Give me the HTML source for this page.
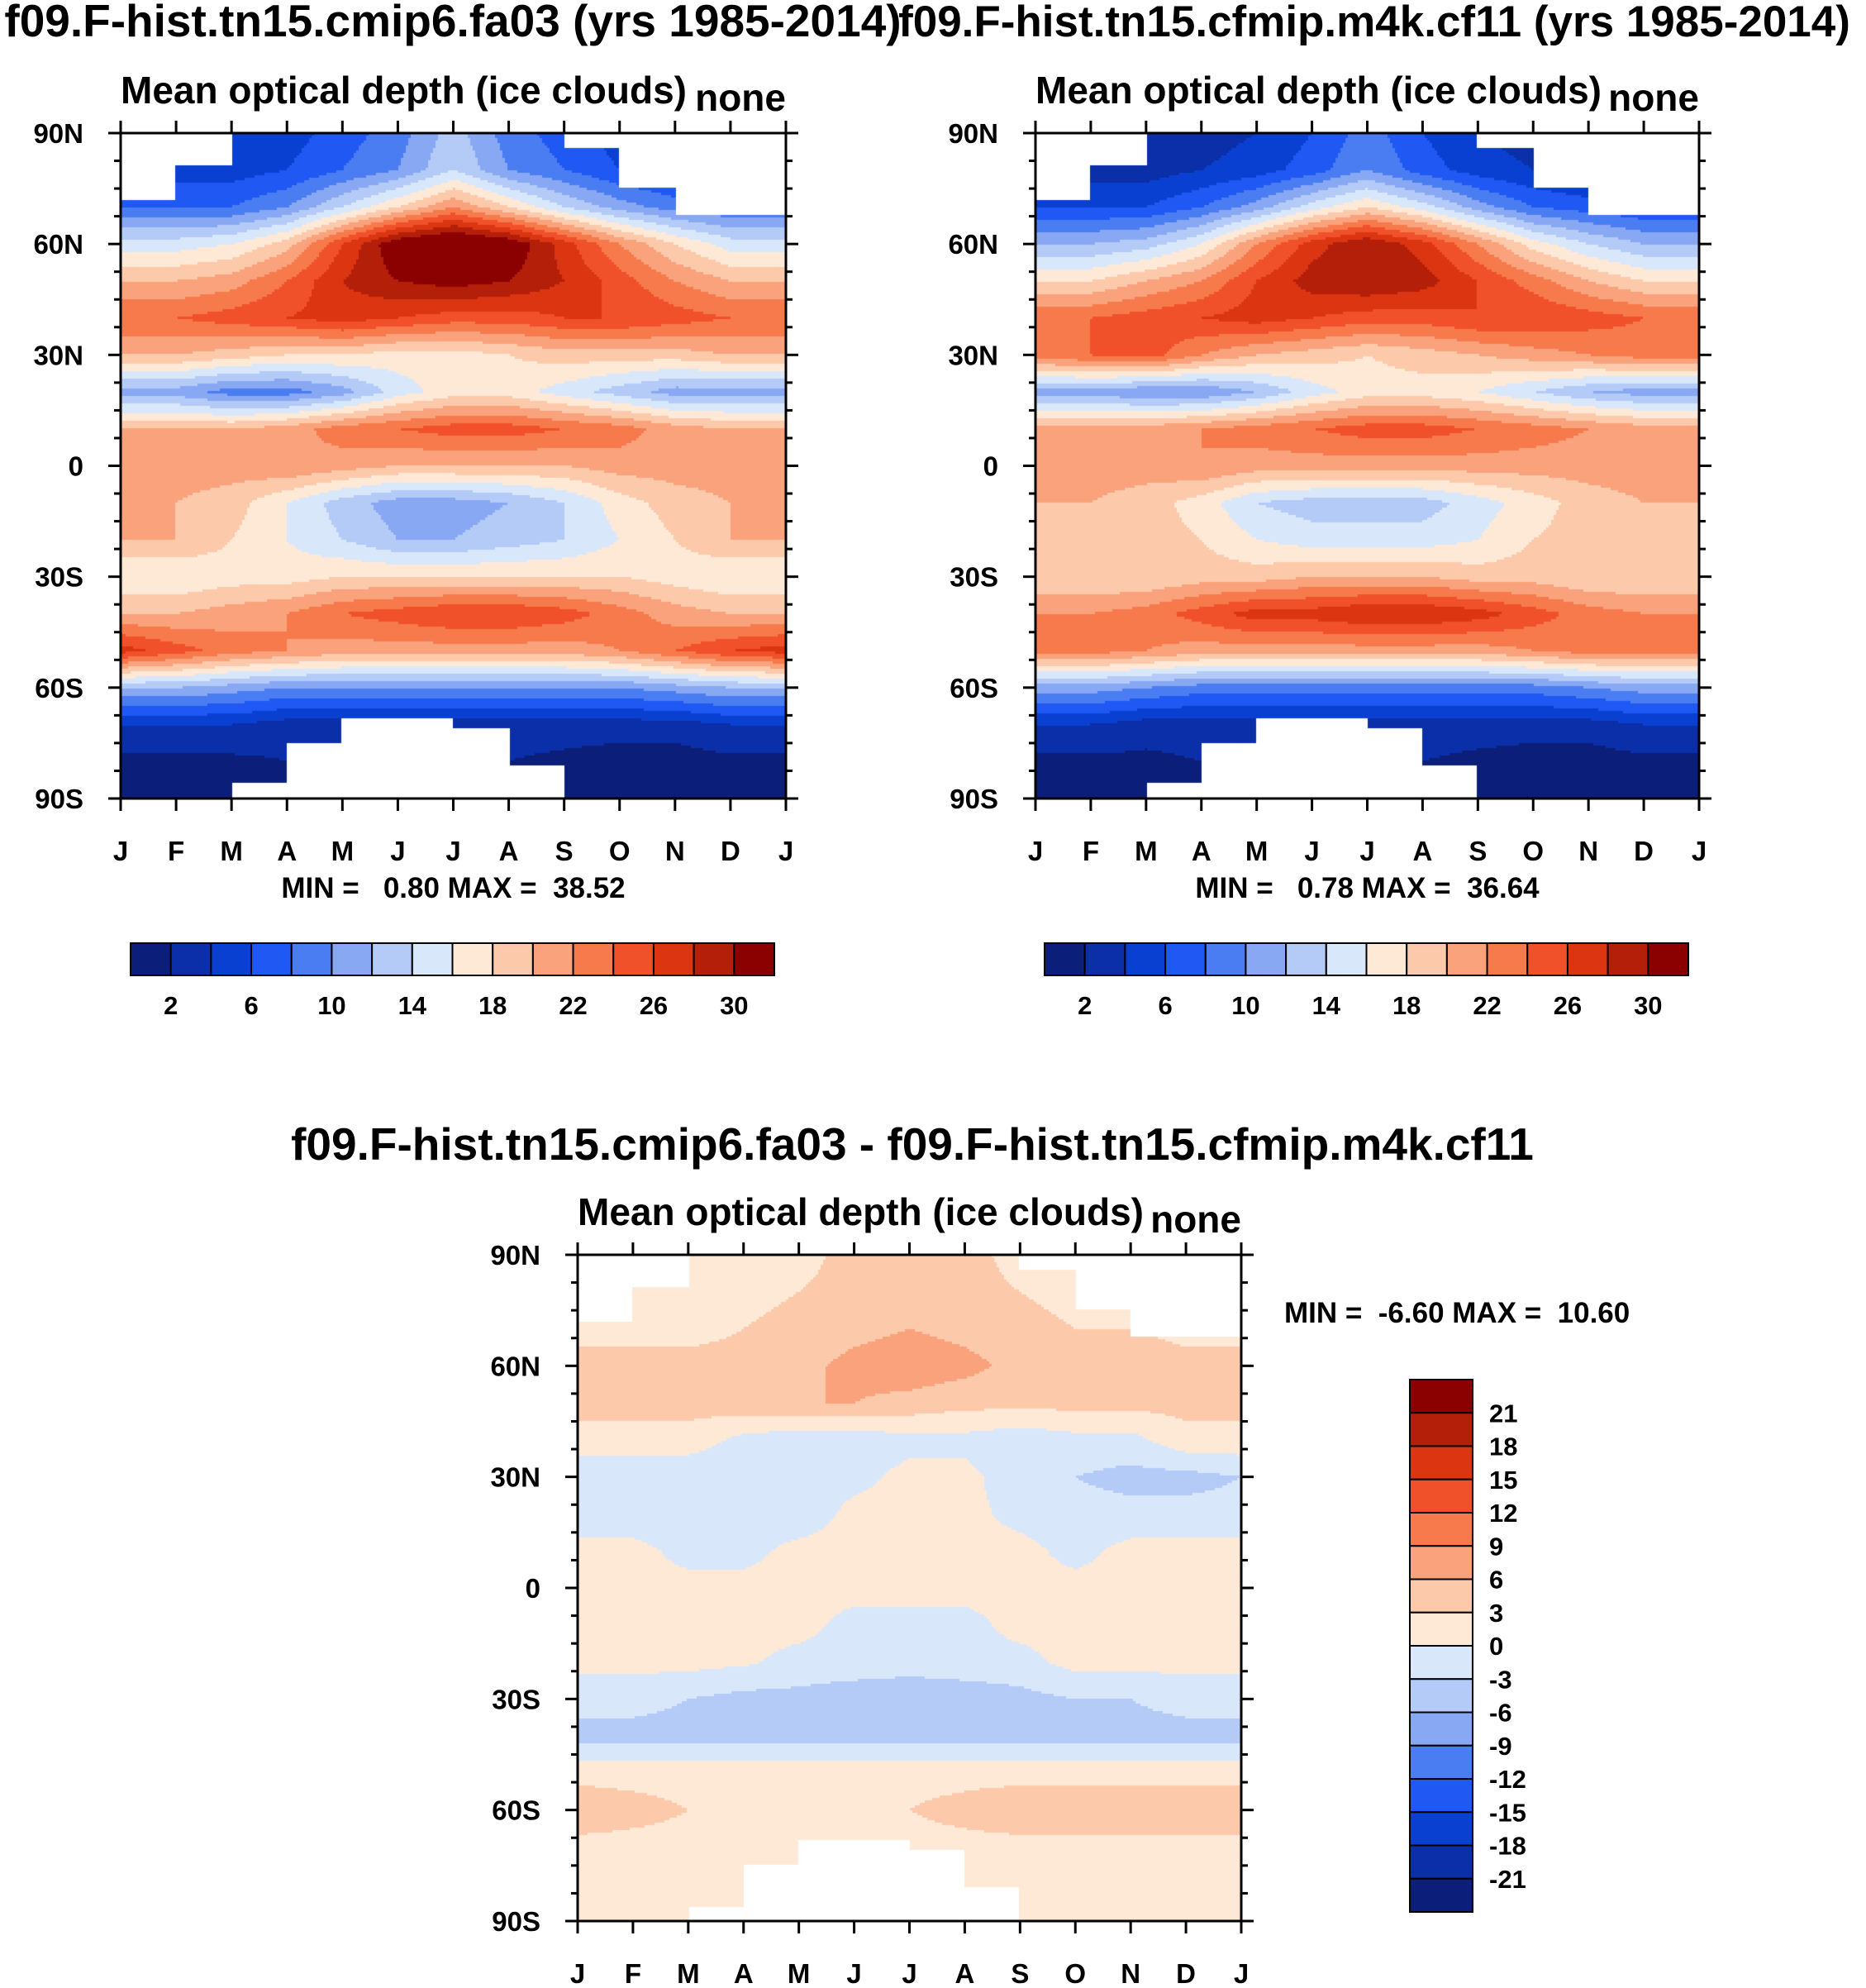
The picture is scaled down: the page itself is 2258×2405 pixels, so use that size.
<!DOCTYPE html>
<html><head><meta charset="utf-8">
<style>
html,body{margin:0;padding:0;background:#fff;}
#root{position:relative;width:2258px;height:2405px;overflow:hidden;background:#fff;font-family:"Liberation Sans",Arial,sans-serif;font-weight:bold;}
canvas{position:absolute;}
svg{position:absolute;left:0;top:0;}
text{font-family:"Liberation Sans",Arial,sans-serif;font-weight:bold;fill:#000;white-space:pre;}
</style></head>
<body>
<div id="root">
<canvas id="c1"></canvas>
<canvas id="c2"></canvas>
<canvas id="c3"></canvas>
<svg id="ov" width="2258" height="2405"></svg>
</div>
<script>
// ---- data ----
const months = ['J','F','M','A','M','J','J','A','S','O','N','D','J'];
const lats = [-90,-80,-70,-60,-50,-40,-30,-20,-10,0,10,20,30,40,50,60,70,80,90];
const topLevelLabels = ['2','6','10','14','18','22','26','30'];
const diffLevelLabels = ['21','18','15','12','9','6','3','0','-3','-6','-9','-12','-15','-18','-21'];
const palette = ['#0b1f7a','#0a2fa8','#0a40d2','#1f58f2','#4a7df2','#88a8f4','#b4cbf7','#d9e7fb','#fee9d7','#fcc9ab','#f9a27b','#f77a4d','#f1512a','#db3512','#b41f0a','#8b0000'];
const field1 = [
[1,1,1,1,1,1,1,1,1,1,1,1,1],
[1.5,1.5,1.5,2,2,2,2,2,1.5,1,1,1.5,1.5],
[4,4,4,3,3,3,3,3,3,3,3,4,4],
[12,12,11,10,10,10,10,10,10,10,11,12,12],
[27,25,23,22,21,21,21,21,21,22,24,26,27],
[20,20,21,22,24,25,26,26,25,23,21,20,20],
[16,16,17,17,18,18,18,18,18,18,17,16,16],
[20,20,18,16,14,12,12,13,14,16,18,20,20],
[20,20,19,16,13,11,11,12,14,17,19,20,20],
[21,21,21,22,21,20,20,20,20,21,21,21,21],
[20,20,20,21,23,24,25,25,24,23,21,20,20],
[11,11,9,9,11,15,17,17,15,13,11,11,11],
[20,20,19,18,18,17,17,18,19,19,19,20,20],
[24,24,25,26,27,26,25,25,26,26,25,24,24],
[20,20,21,24,28,30,31,30,28,25,22,20,20],
[15,15,16,19,26,32,34,32,27,22,18,15,15],
[8,8,8,10,14,18,22,18,14,11,9,8,8],
[5,5,5,6,8,10,14,10,8,6,5,5,5],
[5,5,5,5,7,9,13,9,7,5,5,5,5]];
const field2 = [
[1,1,1,1,1,1,1,1,1,1,1,1,1],
[1.5,1.5,1.5,2,2,2,2,2,1.5,1,1,1.5,1.5],
[4,4,3,3,3,3,3,3,3,3,3,4,4],
[11,11,10,9,9,9,9,9,9,9,10,11,11],
[23,23,22,21,21,21,21,21,21,22,23,23,23],
[22,22,23,25,27,27,28,28,27,25,23,22,22],
[18,18,18,19,19,20,20,20,19,19,18,18,18],
[19,19,19,18,16,15,15,15,16,18,19,19,19],
[20,20,19,17,14,13,13,13,15,17,19,20,20],
[21,21,21,22,21,21,21,21,21,21,21,21,21],
[21,21,21,22,23,24,25,25,24,23,22,21,21],
[11,11,10,10,12,15,17,17,16,14,12,11,11],
[23,24,25,22,20,19,18,19,20,21,22,23,23],
[24,24,25,26,27,26,25,25,26,26,25,24,24],
[18,18,20,22,26,29,30,29,26,23,20,18,18],
[12,12,13,16,22,27,30,27,22,17,14,12,12],
[6,6,6,8,11,15,18,15,11,8,7,6,6],
[3,3,3,4,5,7,10,7,5,4,3,3,3],
[2,2,2,3,4,6,9,6,4,3,2,2,2]];
const field3 = [
[2,2,2,2,2,2,2,2,2,2,2,2,2],
[2,2,2,2,2,2,2,2,2,2,2,2,2],
[2,2,2,2,2,2,2,2,2,2,2,2,2],
[5,4,3,3,3,3,3,4,5,5,5,5,5],
[2,2,2,2,2,2,2,2,2,2,2,2,2],
[-4,-4,-4,-4,-4,-4,-4,-4,-4,-4,-4,-4,-4],
[-2,-2,-3,-4,-4,-5,-6,-5,-4,-3,-3,-2,-2],
[1,1,1,0.5,-1,-1,-1,-1,-1,1,1,1,1],
[1,1,1,1,1,-1,-1,-1,1,1,1,1,1],
[1,1,1,1,1,1,1,1,1,1,1,1,1],
[1,1,-1,-1,1,1,1,1,1,-1,1,1,1],
[-2,-2,-2,-2,-2,1,1,1,-1,-2,-2,-2,-2],
[-3,-3,-3,-3,-2,-1,1,1,-2,-3,-4,-4,-3],
[2,2,2,-1,-2,-2,-1,-1,-2,-1,-1,2,2],
[4,4,4,5,6,6,5,4,4,4,4,4,4],
[4,4,4,4,5,7,8,7,5,5,5,4,4],
[2,2,2,3,4,5,6,5,4,3,3,2,2],
[2,2,2,2,3,4,5,4,3,2,2,2,2],
[2,2,2,2,2,4,5,4,2,2,2,2,2]];
const northMask = [72,81,90,90,90,90,90,90,86,75,68,68];
const southMask = [-90,-90,-86,-75,-68,-68,-71,-81,-90,-90,-90,-90];
const minmax = ['MIN =   0.80 MAX =  38.52','MIN =   0.78 MAX =  36.64','MIN =  -6.60 MAX =  10.60'];

// ---- layout ----
const P = [
 {id:'c1',field:field1,x0:146,x1:951,y0:161,y1:966,idx:v=>Math.floor(v/2)},
 {id:'c2',field:field2,x0:1253,x1:2056,y0:161,y1:966,idx:v=>Math.floor(v/2)},
 {id:'c3',field:field3,x0:699,x1:1502,y0:1518,y1:2324,idx:v=>Math.floor((v+24)/3)}
];
function xScale(p,m){return p.x0+(p.x1-p.x0)*m/12;}
function yScale(p,lat){return p.y0+(p.y1-p.y0)*(90-lat)/180;}

P.forEach(p=>{
 const cv=document.getElementById(p.id);
 const W=p.x1-p.x0,H=p.y1-p.y0;
 cv.width=W;cv.height=H;cv.style.left=p.x0+'px';cv.style.top=p.y0+'px';
 const ctx=cv.getContext('2d');
 const st=3;
 for(let py=0;py<H;py+=st){
  const lat=90-(py+st/2)/H*180;
  let r=(lat+90)/10; let ri=Math.min(17,Math.max(0,Math.floor(r))); let fr=r-ri;
  for(let px=0;px<W;px+=st){
   const mm=(px+st/2)/W*12; let mi=Math.min(11,Math.floor(mm)); let fm=mm-mi;
   const seg=Math.min(11,Math.floor(mm));
   if(lat>northMask[seg]||lat<southMask[seg]) continue;
   const f=p.field;
   const v=(f[ri][mi]*(1-fm)+f[ri][mi+1]*fm)*(1-fr)+(f[ri+1][mi]*(1-fm)+f[ri+1][mi+1]*fm)*fr;
   let k=Math.max(0,Math.min(15,p.idx(v)));
   ctx.fillStyle=palette[k];
   ctx.fillRect(px,py,st,st);
  }
 }
});

// ---- overlay ----
const NS='http://www.w3.org/2000/svg';
const ov=document.getElementById('ov');
function el(tag,attrs,txt){const e=document.createElementNS(NS,tag);for(const k in attrs)e.setAttribute(k,attrs[k]);if(txt!==undefined)e.textContent=txt;ov.appendChild(e);return e;}

const t1=el('text',{x:548,y:44,'font-size':55,'text-anchor':'middle'},'f09.F-hist.tn15.cmip6.fa03 (yrs 1985-2014)');


const t2=el('text',{x:1663,y:44,'font-size':53,'text-anchor':'middle'},'f09.F-hist.tn15.cfmip.m4k.cf11 (yrs 1985-2014)');


const t3=el('text',{x:1104,y:1403,'font-size':55,'text-anchor':'middle'},'f09.F-hist.tn15.cmip6.fa03 - f09.F-hist.tn15.cfmip.m4k.cf11');



const yLab={'-90':'90S','-60':'60S','-30':'30S','0':'0','30':'30N','60':'60N','90':'90N'};
P.forEach((p,pi)=>{
 const sub=el('text',{x:p.x0,y:p.y0-36,'font-size':46},'Mean optical depth (ice clouds)');
 
 
 const nn=el('text',{x:p.x1,y:p.y0-27,'font-size':46,'text-anchor':'end'},'none');
 
 
 const fr=el('rect',{x:p.x0,y:p.y0,width:p.x1-p.x0,height:p.y1-p.y0,fill:'none',stroke:'#000','stroke-width':3});
 
 
 for(let m=0;m<=12;m++){
  const x=xScale(p,m);
  const tk=el('line',{x1:x,x2:x,y1:p.y1,y2:p.y1+15,stroke:'#000','stroke-width':3});
  
  
  const tt=el('line',{x1:x,x2:x,y1:p.y0,y2:p.y0-15,stroke:'#000','stroke-width':3});
  
  
  const lb=el('text',{x:x,y:p.y1+75,'font-size':33,'text-anchor':'middle'},months[m]);
  
  
 }
 for(let lat=-90;lat<=90;lat+=7.5){
  const y=yScale(p,lat);const major=(lat%30===0);const L=major?15:8;
  const a=el('line',{x1:p.x0,x2:p.x0-L,y1:y,y2:y,stroke:'#000','stroke-width':3});
  
  
  const b=el('line',{x1:p.x1,x2:p.x1+L,y1:y,y2:y,stroke:'#000','stroke-width':3});
  
  
  if(major){
   const yl=el('text',{x:p.x0-45,y:y+12,'font-size':33,'text-anchor':'end'},yLab[String(lat)]);
   
   
  }
 }
 let mt;
 if(pi<2) mt=el('text',{x:(p.x0+p.x1)/2,y:1086,'font-size':35,'text-anchor':'middle','xml:space':'preserve'},minmax[pi]);
 else mt=el('text',{x:1554,y:1600,'font-size':35,'xml:space':'preserve'},minmax[pi]);
 
 
});

// horizontal colorbars
[158,1264].forEach(cx=>{
 const w=779/16;
 for(let i=0;i<16;i++){
  const r=el('rect',{x:cx+i*w,y:1141,width:w,height:39,fill:palette[i],stroke:'#000','stroke-width':2});
  
  
 }
 topLevelLabels.forEach((t,j)=>{
  const lb=el('text',{x:cx+w*(1+2*j),y:1227,'font-size':31,'text-anchor':'middle'},t);
  
  
 });
});
// vertical colorbar
{
 const h=644/16;
 for(let i=0;i<16;i++){
  const r=el('rect',{x:1706,y:1669+i*h,width:76,height:h,fill:palette[15-i],stroke:'#000','stroke-width':2});
  
  
 }
 diffLevelLabels.forEach((t,j)=>{
  const lb=el('text',{x:1802,y:1669+h*(j+1)+11,'font-size':31},t);
  
  
 });
}
</script>
</body></html>
